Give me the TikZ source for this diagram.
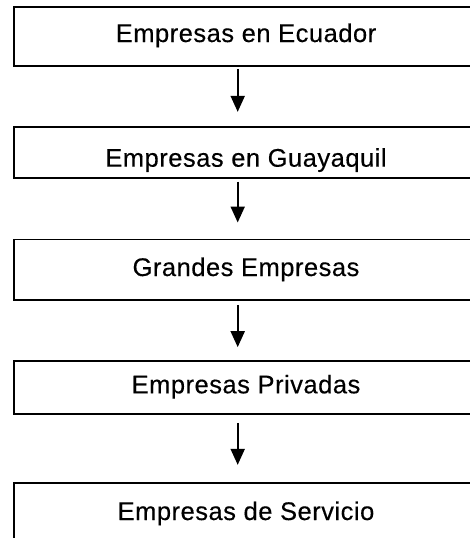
\documentclass[tikz,border=0pt]{standalone}
\usepackage{fontspec}
\setmainfont{Liberation Sans}[LetterSpace=2,FakeBold=0.3]
\usetikzlibrary{arrows.meta}
\begin{document}
\begin{tikzpicture}[x=1pt,y=1pt,
  stage/.style={draw=black, line width=1.7pt, minimum width=464pt, inner sep=0pt,
    font=\fontsize{25.5}{30}\selectfont, text height=18pt},
  flow/.style={draw=black, line width=2pt, -{Triangle[width=14pt,length=16pt]}}]
\useasboundingbox (0,0) rectangle (470,-538);
\clip (0,0) rectangle (470,-538);
\node[stage, minimum height=59pt, text depth=7pt] (b1) at (246,-36.5) {Empresas en Ecuador};
\node[stage, minimum height=51.6pt, text height=28.4pt, text depth=0pt] (b2) at (246,-152.5) {Empresas en Guayaquil};
\node[stage, minimum height=60.7pt, text depth=5.4pt] (b3) at (246,-269.7) {Grandes Empresas};
\node[stage, minimum height=53pt, text depth=6.4pt] (b4) at (246,-387.5) {Empresas Privadas};
\node[stage, minimum height=58pt, text depth=1.4pt] (b5) at (246,-511.7) {Empresas de Servicio};
\draw[flow, shorten <=2pt, shorten >=14pt] ([xshift=-8.3pt]b1.south) -- ([xshift=-8.3pt]b2.north);
\draw[flow, shorten <=2.5pt, shorten >=16pt] ([xshift=-8.3pt]b2.south) -- ([xshift=-8.3pt]b3.north);
\draw[flow, shorten <=4pt, shorten >=13pt] ([xshift=-8.3pt]b3.south) -- ([xshift=-8.3pt]b4.north);
\draw[flow, shorten <=8pt, shorten >=17pt] ([xshift=-8.3pt]b4.south) -- ([xshift=-8.3pt]b5.north);
\end{tikzpicture}
\end{document}
